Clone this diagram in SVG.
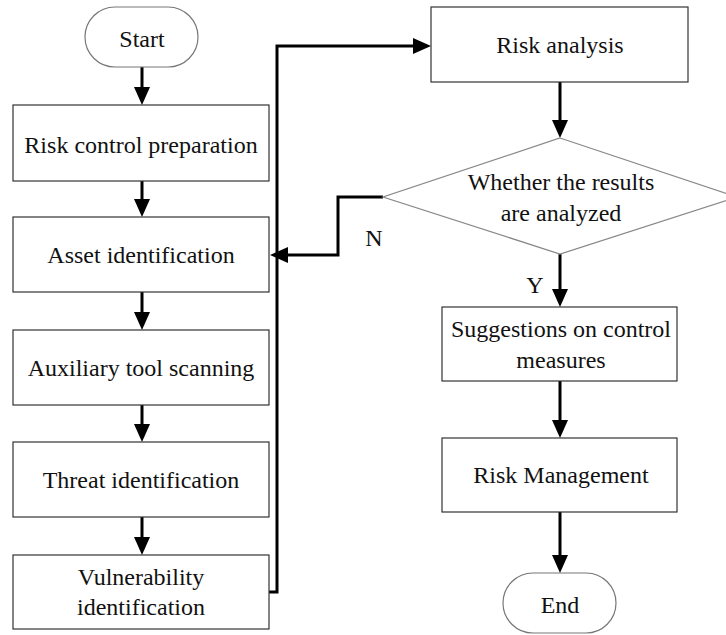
<svg xmlns="http://www.w3.org/2000/svg" width="726" height="635" viewBox="0 0 726 635">
  <style>
    .box { fill: #ffffff; stroke: #333333; stroke-width: 1.2; }
    .term { fill: #ffffff; stroke: #777777; stroke-width: 1.2; }
    .dec { fill: #ffffff; stroke: #888888; stroke-width: 1.2; }
    .lbl { font-size: 24px; fill: #111111; text-anchor: middle; }
    .conn { fill: none; stroke: #000000; stroke-width: 3; }
  </style>
  <defs>
    <marker id="arrow" viewBox="0 0 18 16" refX="8" refY="8" markerWidth="18" markerHeight="16" markerUnits="userSpaceOnUse" orient="auto">
      <path d="M0,0 L18,8 L0,16 Z" fill="#000000"/>
    </marker>
  </defs>
  <rect width="726" height="635" fill="#ffffff"/>

  <g font-family="'Liberation Serif', 'Times New Roman', 'DejaVu Serif', serif">
  <g id="connectors">
    <line class="conn" x1="142" y1="67" x2="142" y2="95" marker-end="url(#arrow)"/>
    <line class="conn" x1="142" y1="181" x2="142" y2="207" marker-end="url(#arrow)"/>
    <line class="conn" x1="142" y1="292" x2="142" y2="320" marker-end="url(#arrow)"/>
    <line class="conn" x1="142" y1="405" x2="142" y2="432" marker-end="url(#arrow)"/>
    <line class="conn" x1="142" y1="517" x2="142" y2="545" marker-end="url(#arrow)"/>
    <path class="conn" d="M269,592 H277 V46 H421" marker-end="url(#arrow)"/>
    <line class="conn" x1="560" y1="82" x2="560" y2="128" marker-end="url(#arrow)"/>
    <path class="conn" d="M383,197 H338 V255 H280" marker-end="url(#arrow)"/>
    <line class="conn" x1="560" y1="254" x2="560" y2="297" marker-end="url(#arrow)"/>
    <line class="conn" x1="560" y1="381" x2="560" y2="428" marker-end="url(#arrow)"/>
    <line class="conn" x1="560" y1="512" x2="560" y2="563" marker-end="url(#arrow)"/>
    <text class="lbl" x="374" y="246">N</text>
    <text class="lbl" x="535" y="293">Y</text>
  </g>

  <g id="start">
    <rect class="term" x="85" y="7" width="113" height="60" rx="30" ry="30"/>
    <text class="lbl" x="142" y="47">Start</text>
  </g>
  <g id="risk-control-preparation">
    <rect class="box" x="13" y="105" width="256" height="76"/>
    <text class="lbl" x="141" y="153">Risk control preparation</text>
  </g>
  <g id="asset-identification">
    <rect class="box" x="13" y="217" width="256" height="75"/>
    <text class="lbl" x="141" y="263">Asset identification</text>
  </g>
  <g id="auxiliary-tool-scanning">
    <rect class="box" x="13" y="330" width="256" height="75"/>
    <text class="lbl" x="141" y="376">Auxiliary tool scanning</text>
  </g>
  <g id="threat-identification">
    <rect class="box" x="13" y="442" width="256" height="75"/>
    <text class="lbl" x="141" y="488">Threat identification</text>
  </g>
  <g id="vulnerability-identification">
    <rect class="box" x="13" y="555" width="256" height="74"/>
    <text class="lbl" x="141" y="585">Vulnerability</text>
    <text class="lbl" x="141" y="615">identification</text>
  </g>
  <g id="risk-analysis">
    <rect class="box" x="431" y="7" width="257" height="75"/>
    <text class="lbl" x="560" y="53">Risk analysis</text>
  </g>
  <g id="results-analyzed">
    <polygon class="dec" points="560,138 737,197 560,254 383,197"/>
    <text class="lbl" x="561" y="190">Whether the results</text>
    <text class="lbl" x="561" y="221">are analyzed</text>
  </g>
  <g id="control-suggestions">
    <rect class="box" x="442" y="307" width="235" height="74"/>
    <text class="lbl" x="561" y="337">Suggestions on control</text>
    <text class="lbl" x="561" y="368">measures</text>
  </g>
  <g id="risk-management">
    <rect class="box" x="442" y="438" width="235" height="74"/>
    <text class="lbl" x="561" y="483">Risk Management</text>
  </g>
  <g id="end">
    <rect class="term" x="503" y="573" width="113" height="60" rx="30" ry="30"/>
    <text class="lbl" x="560" y="613">End</text>
  </g>
  </g>
</svg>
